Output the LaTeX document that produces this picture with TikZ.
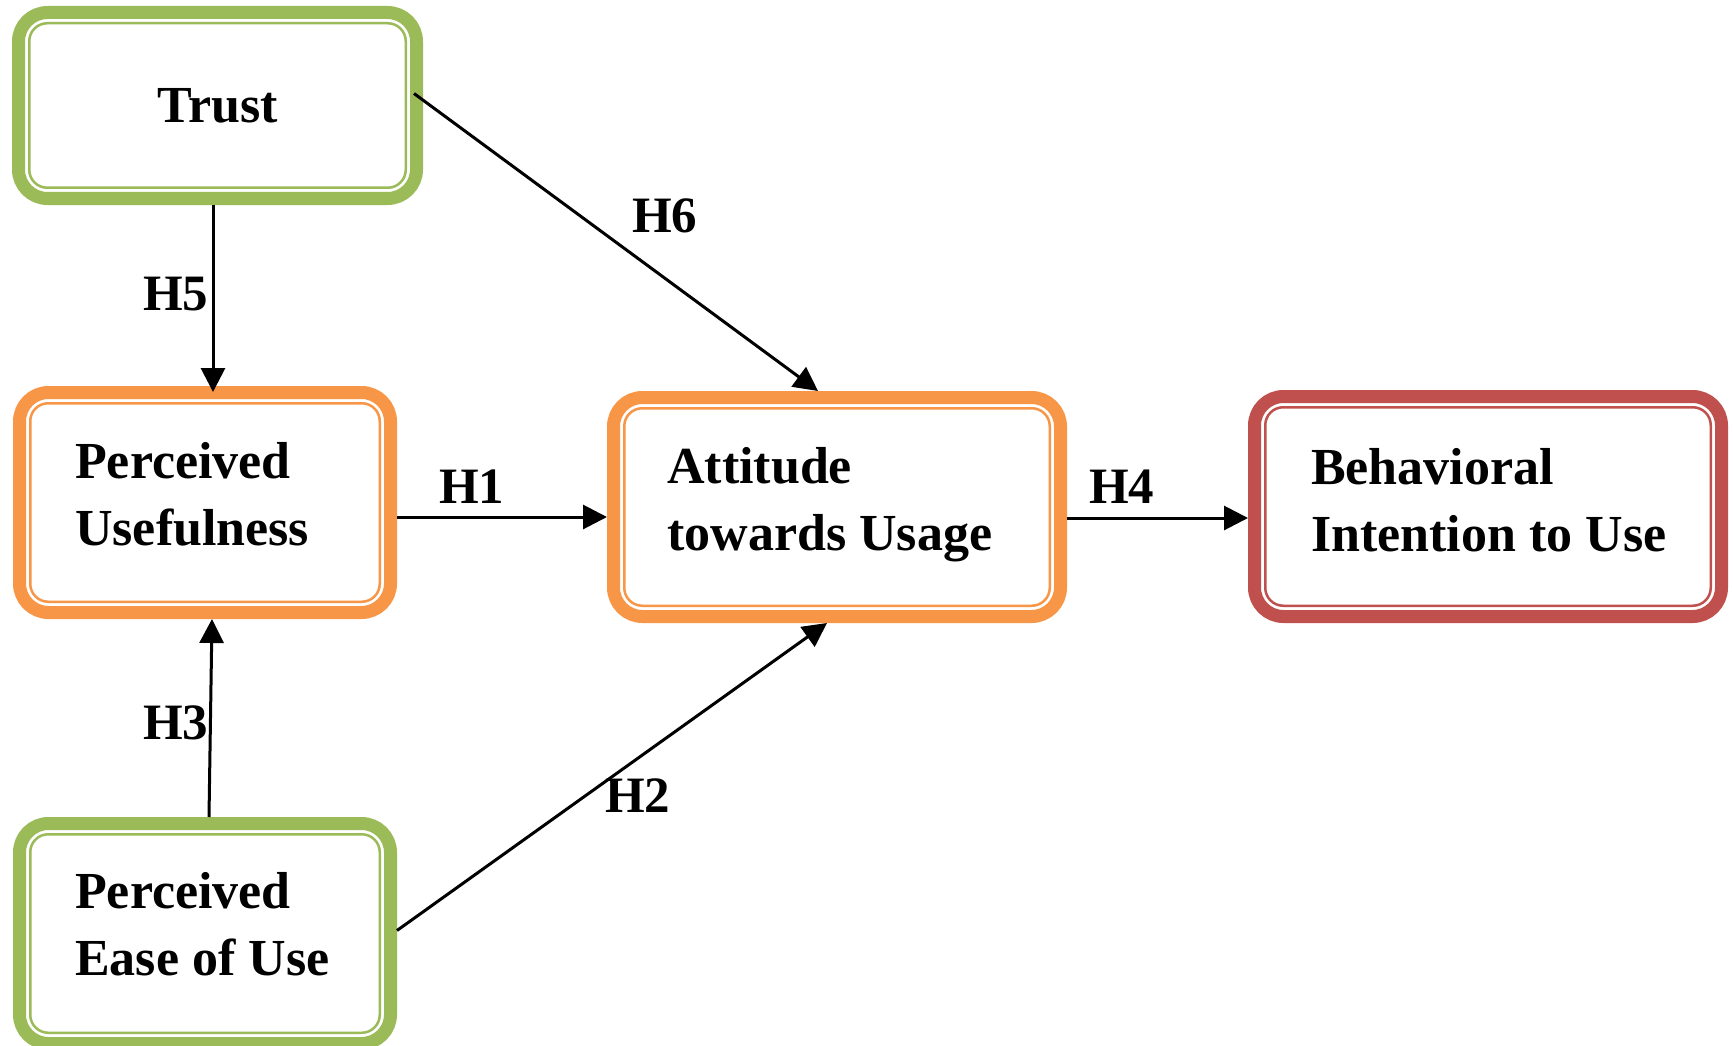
\documentclass[tikz,border=0pt]{standalone}
\usepackage{fontspec}
\setmainfont{Liberation Serif}
\usetikzlibrary{arrows.meta}

\definecolor{grn}{HTML}{9BBB59}
\definecolor{org}{HTML}{F79646}
\definecolor{rd}{HTML}{C0504D}

\tikzset{
  construct/.style={draw=#1, line width=13pt, rounded corners=29pt,
    inner sep=0pt, fill=white},
  innerframe/.style={draw=#1, line width=2.5pt, rounded corners=18pt,
    inner sep=0pt},
  lbl/.style={inner sep=0pt, anchor=base west, align=left,
    font=\fontsize{52}{67}\selectfont\bfseries},
  hyp/.style={inner sep=0pt, anchor=base west,
    font=\fontsize{51}{67}\selectfont\bfseries},
  arr/.style={draw=black, line width=3pt,
    -{Triangle[length=24pt,width=24pt]}}
}

\begin{document}
\begin{tikzpicture}[x=1pt,y=-1pt]
\useasboundingbox (0,0) rectangle (1733,1046);

% constructs: thick outer frame
\node[construct=grn, minimum width=398pt, minimum height=186pt] (T)  at (217.5,105.5) {};
\node[construct=org, minimum width=371pt, minimum height=220pt] (PU) at (205,502.5) {};
\node[construct=grn, minimum width=371pt, minimum height=220pt] (PE) at (205,933.5) {};
\node[construct=org, minimum width=447pt, minimum height=219pt] (A)  at (837,507) {};
\node[construct=rd,  minimum width=467pt, minimum height=220pt] (B)  at (1488,506.5) {};

% constructs: thin inner frame
\node[innerframe=grn, minimum width=376.5pt, minimum height=164.5pt] (Ti)  at (T.center) {};
\node[innerframe=org, minimum width=349.5pt, minimum height=198.5pt] (PUi) at (PU.center) {};
\node[innerframe=grn, minimum width=349.5pt, minimum height=198.5pt] (PEi) at (PE.center) {};
\node[innerframe=org, minimum width=425.5pt, minimum height=197.5pt] (Ai)  at (A.center) {};
\node[innerframe=rd,  minimum width=445.5pt, minimum height=198.5pt] (Bi)  at (B.center) {};

% construct names (base = baseline of the last line)
\node[font=\fontsize{52}{67}\selectfont\bfseries, inner sep=0pt] (Tt) at (T.center) {Trust};
\node[lbl] (PUt) at (75,545)   {Perceived\\Usefulness};
\node[lbl] (PEt) at (75,975)   {Perceived\\Ease of Use};
\node[lbl] (At)  at (667,550)  {Attitude\\towards Usage};
\node[lbl] (Bt)  at (1311,551) {Behavioral\\Intention to Use};

% hypothesised paths
\draw[arr, shorten >=-6pt] ([xshift=-4.5pt]T.south) -- ([xshift=8pt]PU.north);
\draw[arr] ([xshift=-9pt,yshift=12pt]T.east) -- ([xshift=-19pt]A.north);
\draw[arr] ([yshift=-14.5pt]PU.east) -- ([yshift=-10pt]A.west);
\draw[arr] ([xshift=4pt]PE.north) -- ([xshift=7pt]PU.south);
\draw[arr] ([yshift=3pt]PE.east) -- ([xshift=-10pt]A.south);
\draw[arr] ([yshift=-11pt]A.east) -- ([yshift=-11.5pt]B.west);

% path labels
\node[hyp] (h5) at (143,310)  {H5};
\node[hyp] (h6) at (632,233)  {H6};
\node[hyp] (h1) at (439,503)  {H1};
\node[hyp] (h4) at (1089,503) {H4};
\node[hyp] (h3) at (143,739)  {H3};
\node[hyp] (h2) at (605,812)  {H2};
\end{tikzpicture}
\end{document}
